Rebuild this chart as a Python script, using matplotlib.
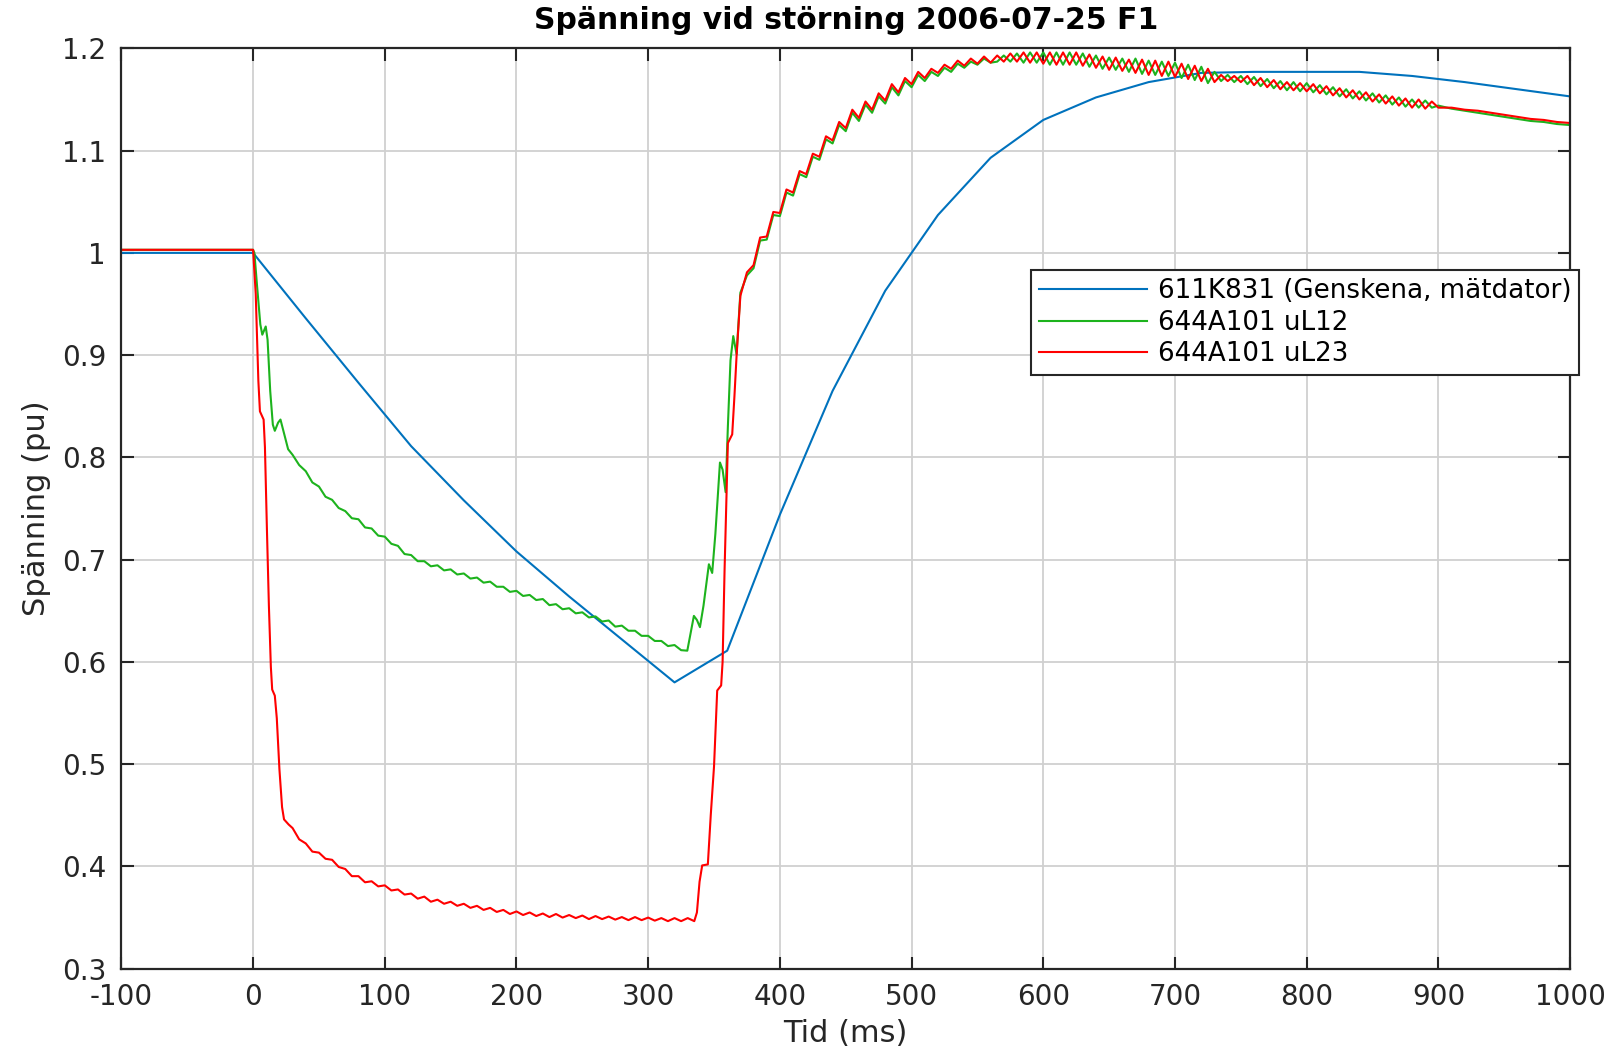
import matplotlib
matplotlib.use("Agg")
import matplotlib.pyplot as plt

# =========================================================
# DATA
# =========================================================

# 611K831 (Genskena, mätdator) - sampled every 40 ms
blue_t = [-100, 0, 40, 80, 120, 160, 200, 240, 280, 320, 360, 400, 440, 480,
          520, 560, 600, 640, 680, 720, 760, 800, 840, 880, 920, 960, 1000]
blue_v = [1.000, 1.000, 0.936, 0.873, 0.811, 0.758, 0.708, 0.664, 0.622, 0.580,
          0.611, 0.744, 0.865, 0.963, 1.037, 1.093, 1.130, 1.152, 1.167, 1.176,
          1.177, 1.177, 1.177, 1.173, 1.167, 1.160, 1.153]

# shared time grids for the rippled parts
t_fault = [30, 35, 40, 45, 50, 55, 60, 65, 70, 75, 80, 85, 90, 95, 100,
           105, 110, 115, 120, 125, 130, 135, 140, 145, 150, 155, 160, 165, 170, 175,
           180, 185, 190, 195, 200, 205, 210, 215, 220, 225, 230, 235, 240, 245, 250,
           255, 260, 265, 270, 275, 280, 285, 290, 295, 300, 305, 310, 315, 320, 325]
t_recovery = [370, 375, 380, 385, 390, 395, 400, 405, 410, 415, 420, 425, 430, 435,
              440, 445, 450, 455, 460, 465, 470, 475, 480, 485, 490, 495, 500, 505,
              510, 515, 520, 525, 530, 535, 540, 545, 550, 555, 560, 565, 570, 575,
              580, 585, 590, 595, 600, 605, 610, 615, 620, 625, 630, 635, 640, 645,
              650, 655, 660, 665, 670, 675, 680, 685, 690, 695, 700, 705, 710, 715,
              720, 725, 730, 735, 740, 745, 750, 755, 760, 765, 770, 775, 780, 785,
              790, 795, 800, 805, 810, 815, 820, 825, 830, 835, 840, 845, 850, 855,
              860, 865, 870, 875, 880, 885, 890, 895, 900,
              910, 920, 930, 940, 950, 960, 970, 980, 990, 1000]

# 644A101 uL12
green_t_drop = [-100, 0, 1, 3, 5.5, 7, 9.6, 11, 13, 15, 16.5, 19, 20.8, 23, 26.6]
green_v_drop = [1.003, 1.003, 1.000, 0.968, 0.930, 0.920, 0.928, 0.915, 0.865,
                0.832, 0.826, 0.834, 0.837, 0.826, 0.808]
green_v_fault = [0.8025, 0.7925, 0.7865, 0.7755, 0.7715, 0.7615, 0.7585, 0.7505,
                 0.7475, 0.7405, 0.7395, 0.7315, 0.7305, 0.7235, 0.7225, 0.7155,
                 0.7135, 0.7055, 0.7045, 0.6985, 0.6985, 0.6935, 0.6945, 0.6895,
                 0.6905, 0.6855, 0.6865, 0.6815, 0.6825, 0.6775, 0.6785, 0.6735,
                 0.6735, 0.6685, 0.6695, 0.6645, 0.6655, 0.6605, 0.6615, 0.6555,
                 0.6565, 0.6515, 0.6525, 0.6475, 0.6485, 0.6435, 0.6445, 0.6395,
                 0.6405, 0.6345, 0.6355, 0.6305, 0.6305, 0.6255, 0.6255, 0.6205,
                 0.6205, 0.6155, 0.6165, 0.6115]
green_t_rise = [329.7, 334.7, 337, 339.3, 342, 346.1, 348.6, 351, 354.5, 356.5,
                358.8, 360.5, 362.5, 364.6, 367.1]
green_v_rise = [0.611, 0.645, 0.641, 0.634, 0.655, 0.6955, 0.687, 0.725, 0.795,
                0.788, 0.766, 0.830, 0.895, 0.9186, 0.901]
green_v_recovery = [
    0.961, 0.978, 0.985, 1.012, 1.013, 1.037, 1.036, 1.059, 1.056, 1.077, 1.074,
    1.094, 1.091, 1.111, 1.107, 1.125, 1.119, 1.137, 1.129, 1.145, 1.137, 1.153,
    1.146, 1.162, 1.154, 1.168, 1.162, 1.174, 1.168, 1.177, 1.173, 1.181, 1.177,
    1.185, 1.181, 1.187, 1.184, 1.190, 1.186, 1.187, 1.193, 1.187, 1.195, 1.186,
    1.196, 1.186, 1.196, 1.184, 1.196, 1.184, 1.196, 1.184, 1.195, 1.182, 1.193,
    1.180, 1.191, 1.179, 1.190, 1.177, 1.190, 1.175, 1.188, 1.174, 1.187, 1.173,
    1.186, 1.171, 1.184, 1.169, 1.182, 1.166, 1.177, 1.168, 1.174, 1.167, 1.173,
    1.165, 1.172, 1.163, 1.170, 1.161, 1.168, 1.159, 1.167, 1.158, 1.166, 1.157,
    1.164, 1.155, 1.162, 1.153, 1.160, 1.151, 1.158, 1.149, 1.156, 1.147, 1.154,
    1.145, 1.152, 1.143, 1.150, 1.142, 1.149, 1.142, 1.144,
    1.141, 1.139, 1.137, 1.135, 1.133, 1.131, 1.129, 1.128, 1.126, 1.125]

# 644A101 uL23
red_t_drop = [-100, 0, 2, 4, 5.2, 8, 9, 10.5, 12, 13.5, 14.5, 16.5, 18, 20, 22,
              23.5, 27]
red_v_drop = [1.003, 1.003, 0.960, 0.875, 0.845, 0.837, 0.810, 0.730, 0.655,
              0.595, 0.573, 0.567, 0.545, 0.495, 0.458, 0.446, 0.441]
red_v_fault = [0.4375, 0.4265, 0.4225, 0.4145, 0.4135, 0.4075, 0.4065, 0.3995,
               0.3975, 0.3905, 0.3905, 0.3845, 0.3855, 0.3805, 0.3815, 0.3765,
               0.3775, 0.3725, 0.3735, 0.3685, 0.3705, 0.3655, 0.3675, 0.3635,
               0.3655, 0.3615, 0.3635, 0.3595, 0.3615, 0.3575, 0.3595, 0.3555,
               0.3575, 0.3535, 0.3560, 0.3525, 0.3550, 0.3515, 0.3540, 0.3505,
               0.3535, 0.3500, 0.3525, 0.3495, 0.3520, 0.3485, 0.3515, 0.3485,
               0.3510, 0.3480, 0.3505, 0.3475, 0.3505, 0.3475, 0.3500, 0.3470,
               0.3495, 0.3465, 0.3495, 0.3465]
red_t_rise = [330, 335, 337, 339, 341, 345.3, 347.5, 350, 352.4, 355.4, 356.5,
              358, 359.5, 360.5, 363.8, 365.5, 367.1]
red_v_rise = [0.3495, 0.3465, 0.355, 0.385, 0.401, 0.402, 0.450, 0.498, 0.572,
              0.577, 0.600, 0.690, 0.762, 0.814, 0.8225, 0.860, 0.899]
red_v_recovery = [
    0.958, 0.981, 0.988, 1.015, 1.016, 1.040, 1.039, 1.062, 1.059, 1.080, 1.077,
    1.097, 1.094, 1.114, 1.110, 1.128, 1.122, 1.140, 1.132, 1.148, 1.140, 1.156,
    1.149, 1.165, 1.157, 1.171, 1.165, 1.177, 1.171, 1.180, 1.176, 1.184, 1.180,
    1.188, 1.183, 1.190, 1.185, 1.192, 1.186, 1.193, 1.187, 1.195, 1.187, 1.196,
    1.186, 1.196, 1.185, 1.196, 1.184, 1.196, 1.184, 1.196, 1.183, 1.194, 1.181,
    1.192, 1.179, 1.191, 1.178, 1.189, 1.176, 1.189, 1.174, 1.188, 1.173, 1.187,
    1.172, 1.185, 1.170, 1.183, 1.168, 1.180, 1.167, 1.174, 1.168, 1.173, 1.167,
    1.173, 1.164, 1.171, 1.162, 1.169, 1.160, 1.167, 1.159, 1.166, 1.158, 1.165,
    1.156, 1.163, 1.154, 1.161, 1.152, 1.159, 1.150, 1.157, 1.148, 1.155, 1.146,
    1.153, 1.144, 1.151, 1.142, 1.150, 1.141, 1.148, 1.142,
    1.142, 1.140, 1.139, 1.137, 1.135, 1.133, 1.131, 1.130, 1.128, 1.127]

labels = ["611K831 (Genskena, mätdator)", "644A101 uL12", "644A101 uL23"]

x_ticks = [-100, 0, 100, 200, 300, 400, 500, 600, 700, 800, 900, 1000]
x_ticklabels = ["-100", "0", "100", "200", "300", "400", "500", "600", "700",
                "800", "900", "1000"]
y_ticks = [0.3, 0.4, 0.5, 0.6, 0.7, 0.8, 0.9, 1.0, 1.1, 1.2]
y_ticklabels = ["0.3", "0.4", "0.5", "0.6", "0.7", "0.8", "0.9", "1", "1.1", "1.2"]

# =========================================================
# PLOT
# =========================================================

green_t = green_t_drop + t_fault + green_t_rise + t_recovery
green_v = green_v_drop + green_v_fault + green_v_rise + green_v_recovery
red_t = red_t_drop + t_fault + red_t_rise + t_recovery
red_v = red_v_drop + red_v_fault + red_v_rise + red_v_recovery

plt.rcParams['font.family'] = ['DejaVu Sans']

fig = plt.figure(figsize=(16.12, 10.51), dpi=100)
ax = fig.add_axes([0.0753, 0.0783, 0.8987, 0.8757])

ax.plot(blue_t, blue_v, color='#0072BD', linewidth=1.5, label=labels[0])
ax.plot(green_t, green_v, color='#1DB31D', linewidth=1.5, label=labels[1])
ax.plot(red_t, red_v, color='#FF0000', linewidth=1.5, label=labels[2])

ax.set_xlim(-100, 1000)
ax.set_ylim(0.3, 1.2)
ax.set_xticks(x_ticks)
ax.set_xticklabels(x_ticklabels)
ax.set_yticks(y_ticks)
ax.set_yticklabels(y_ticklabels)

ax.tick_params(direction='in', top=True, right=True, length=9, width=1.5,
               labelsize=20, colors='#262626')
ax.tick_params(axis='x', pad=10)
ax.tick_params(axis='y', pad=11)
for sp in ax.spines.values():
    sp.set_linewidth(1.6)
    sp.set_color('#262626')

ax.grid(True, color='#d0d0d0', linewidth=1.3)
ax.set_axisbelow(True)

ax.set_xlabel("Tid (ms)", fontsize=22, color='#262626', labelpad=6)
ax.set_ylabel("Spänning (pu)", fontsize=22, color='#262626', labelpad=8)
ax.set_title("Spänning vid störning 2006-07-25 F1", fontsize=21.5,
             fontweight='bold', pad=14)

leg = ax.legend(loc='upper left', bbox_to_anchor=(0.628, 0.759), borderaxespad=0,
                fontsize=18.8, handlelength=4.15, handletextpad=0.39,
                labelspacing=0.22, borderpad=0.3, fancybox=False,
                framealpha=1, edgecolor='#262626')
leg.get_frame().set_linewidth(1.5)

fig.savefig("out.png", dpi=100)
plt.close(fig)
